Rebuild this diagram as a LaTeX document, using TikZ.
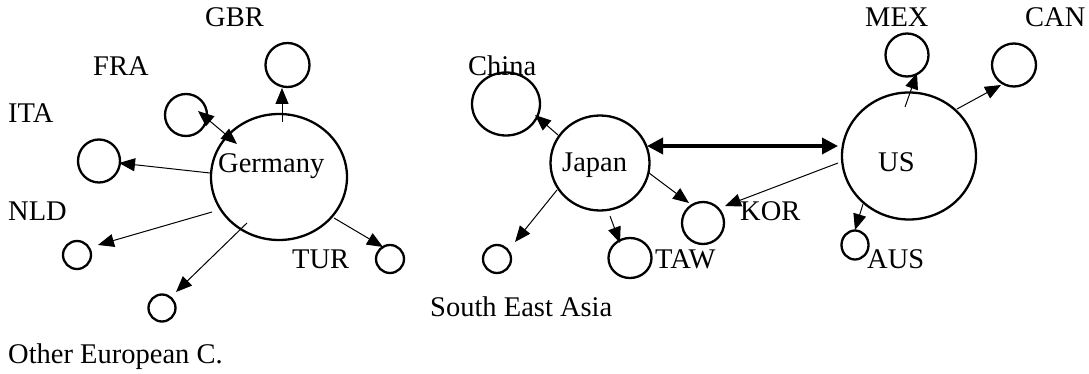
\documentclass[tikz,border=0pt]{standalone}
\usepackage{fontspec}
\setmainfont{Liberation Serif}
\usetikzlibrary{arrows.meta,calc,shapes.geometric}
\begin{document}
\begin{tikzpicture}[x=1pt,y=-1pt,
  ctry/.style={draw,ellipse,line width=2.3pt,inner sep=0pt},
  lbl/.style={anchor=base west,inner sep=0pt,font=\fontsize{28.5}{30}\selectfont},
  arr/.style={line width=1pt,-{Triangle[length=16pt,width=13pt]}},
  darr/.style={line width=1pt,{Triangle[length=16pt,width=13pt]}-{Triangle[length=16pt,width=13pt]}},
  tarr/.style={line width=3.6pt,{Triangle[length=16pt,width=16pt]}-{Triangle[length=16pt,width=16pt]}}]
\useasboundingbox (0,0) rectangle (1089,374);
% Europe
\node[ctry,minimum width=136pt,minimum height=126pt] (germany) at (279,177) {};
\node[ctry,minimum width=44pt,minimum height=44pt] (gbr) at (287.5,65) {};
\node[ctry,minimum width=42pt,minimum height=42pt] (fra) at (186,115) {};
\node[ctry,minimum width=42pt,minimum height=43pt] (ita) at (99,161) {};
\node[ctry,minimum width=28pt,minimum height=28pt] (nld) at (77,255) {};
\node[ctry,minimum width=27pt,minimum height=27pt] (oth) at (162,308) {};
\node[ctry,minimum width=28pt,minimum height=28pt] (tur) at (390,259) {};
% Asia
\node[ctry,minimum width=68pt,minimum height=63pt] (china) at (506,104) {};
\node[ctry,minimum width=99pt,minimum height=95pt] (japan) at (600,163) {};
\node[ctry,minimum width=42pt,minimum height=42pt] (kor) at (703,223) {};
\node[ctry,minimum width=43pt,minimum height=40pt] (taw) at (630,258) {};
\node[ctry,minimum width=28pt,minimum height=28pt] (sea) at (497,259) {};
% America
\node[ctry,minimum width=134pt,minimum height=127pt] (us) at (909,156) {};
\node[ctry,minimum width=43pt,minimum height=43pt] (mex) at (907,55) {};
\node[ctry,minimum width=44pt,minimum height=43pt] (can) at (1014,65) {};
\node[ctry,minimum width=27pt,minimum height=29pt] (aus) at (855,245) {};
% labels
\node[lbl] (lgbr) at (205,27) {GBR};
\node[lbl] (lfra) at (93,76) {FRA};
\node[lbl] (lita) at (8,123) {ITA};
\node[lbl] (lnld) at (8,220) {NLD};
\node[lbl] (loth) at (8,363) {Other European C.};
\node[lbl] (ltur) at (292,268) {TUR};
\node[lbl] (lger) at (218,173) {Germany};
\node[lbl] (lchi) at (468,76) {China};
\node[lbl] (ljap) at (562,172) {Japan};
\node[lbl] (lkor) at (740,220) {KOR};
\node[lbl] (ltaw) at (655,268) {TAW};
\node[lbl] (lsea) at (430,316) {South East Asia};
\node[lbl] (lus) at (878,172) {US};
\node[lbl] (lmex) at (865,27) {MEX};
\node[lbl] (lcan) at (1025,27) {CAN};
\node[lbl] (laus) at (867,268) {AUS};
% connectors
\draw[arr] ($(germany)+(3,-55)$) -- ($(gbr)+(-5.5,23)$);
\draw[darr] ($(fra)+(12,-4)$) -- ($(germany)+(-42,-33)$);
\draw[arr] ($(germany)+(-69,-4)$) -- ($(ita)+(20,2)$);
\draw[arr] ($(germany)+(-67,35)$) -- ($(nld)+(21,-10)$);
\draw[arr] ($(germany)+(-32,46)$) -- ($(oth)+(14,-16)$);
\draw[arr] ($(germany)+(55,41)$) -- ($(tur)+(-7,-12)$);
\draw[arr] ($(japan)+(-42,-28)$) -- ($(china)+(29,11)$);
\draw[arr] ($(japan)+(-43,27)$) -- ($(sea)+(18,-17)$);
\draw[arr] ($(japan)+(10,53)$) -- ($(taw)+(-10,-15)$);
\draw[arr] ($(japan)+(49,10)$) -- ($(kor)+(-14,-20)$);
\draw[arr] ($(us)+(-71,7)$) -- ($(kor)+(22,-17)$);
\draw[tarr] ($(japan)+(47,-17)$) -- ($(us)+(-71,-10)$);
\draw[arr] ($(us)+(-4,-49)$) -- ($(mex)+(10,18)$);
\draw[arr] ($(us)+(48,-47)$) -- ($(can)+(-13,20)$);
\draw[arr] ($(us)+(-46,48)$) -- ($(aus)+(0,-15)$);
\end{tikzpicture}
\end{document}
